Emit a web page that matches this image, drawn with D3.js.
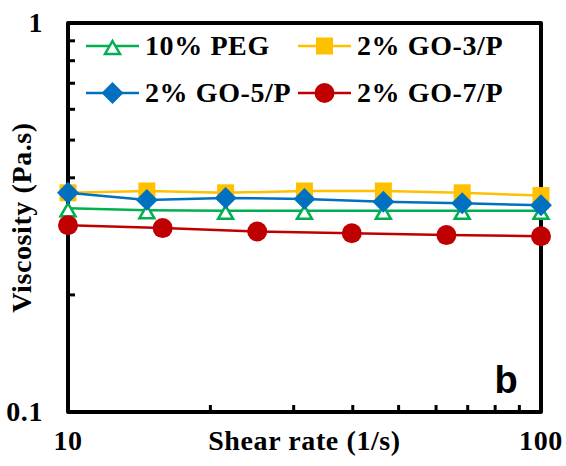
<!DOCTYPE html>
<html>
<head>
<meta charset="utf-8">
<script src="https://cdn.jsdelivr.net/npm/d3@7"></script>
<style>
  body { margin: 0; background: #fff; }
  text { font-family: "Liberation Serif", "Times New Roman", serif; font-weight: bold; letter-spacing: 0.6px; }
</style>
</head>
<body>
<div id="chart"></div>
<script>
// shear rates (1/s)
var shearA = [10, 14.68, 21.54, 31.62, 46.42, 68.13, 100];
var shearB = [10, 15.85, 25.12, 39.81, 63.1, 100];

// viscosity (Pa.s)
var peg10 = [0.334, 0.330, 0.329, 0.329, 0.329, 0.329, 0.329];
var go3 = [0.366, 0.370, 0.366, 0.370, 0.370, 0.366, 0.360];
var go5 = [0.366, 0.351, 0.355, 0.353, 0.347, 0.344, 0.340];
var go7 = [0.302, 0.297, 0.291, 0.288, 0.285, 0.283];

var seriesNames = ["10% PEG", "2% GO-3/P", "2% GO-5/P", "2% GO-7/P"];
var xTickLabels = [10, 100];
var yTickLabels = [0.1, 1];
var xMinor = [20, 30, 40, 50, 60, 70, 80, 90];
var yMinor = [0.2, 0.3, 0.4, 0.5, 0.6, 0.7, 0.8, 0.9];

function chart() {
  var width = 566, height = 466;
  var pLeft = 68, pRight = 541, pTop = 23, pBottom = 412;
  var fs = 28;

  var svg = d3.select("#chart").append("svg")
      .attr("width", width)
      .attr("height", height);

  var x = d3.scaleLog().domain([10, 100]).range([pLeft, pRight]);
  var y = d3.scaleLog().domain([0.1, 1]).range([pBottom, pTop]);

  // triangle marker shape (open)
  function triPath(cx, cy) {
    var p = d3.path();
    p.moveTo(cx, cy - 5);
    p.lineTo(cx + 7.5, cy + 8);
    p.lineTo(cx - 7.5, cy + 8);
    p.closePath();
    return p.toString();
  }

  var series = [
    {name: seriesNames[0], xs: shearA, ys: peg10, color: "#00b050", marker: "triangle"},
    {name: seriesNames[1], xs: shearA, ys: go3, color: "#ffc000", marker: "square"},
    {name: seriesNames[2], xs: shearA, ys: go5, color: "#0070c0", marker: "diamond"},
    {name: seriesNames[3], xs: shearB, ys: go7, color: "#c00000", marker: "circle"}
  ];

  function drawMarker(g, type, cx, cy, color) {
    if (type == "triangle") {
      g.append("path").attr("d", triPath(cx, cy))
        .attr("fill", "#fff").attr("stroke", color).attr("stroke-width", 2.5);
    } else if (type == "square") {
      g.append("rect").attr("x", cx - 8.5).attr("y", cy - 8.5)
        .attr("width", 17).attr("height", 17).attr("fill", color);
    } else if (type == "diamond") {
      g.append("path")
        .attr("d", d3.symbol().type(d3.symbolSquare).size(240)())
        .attr("transform", "translate(" + cx + "," + cy + ") rotate(45)")
        .attr("fill", color);
    } else {
      g.append("circle").attr("cx", cx).attr("cy", cy).attr("r", 10).attr("fill", color);
    }
  }

  // axes frame
  var frame = svg.append("g");
  frame.append("path")
    .attr("d", "M" + pLeft + "," + pTop + "H" + pRight + "V" + pBottom + "H" + pLeft + "Z")
    .attr("fill", "none").attr("stroke", "#000").attr("stroke-width", 4)
    .attr("stroke-linejoin", "round");

  frame.selectAll(".xt").data(xMinor).enter().append("line")
    .attr("x1", function(d) { return x(d); }).attr("x2", function(d) { return x(d); })
    .attr("y1", pBottom).attr("y2", pBottom - 7)
    .attr("stroke", "#000").attr("stroke-width", 3);

  frame.selectAll(".yt").data(yMinor).enter().append("line")
    .attr("y1", function(d) { return y(d); }).attr("y2", function(d) { return y(d); })
    .attr("x1", pLeft).attr("x2", pLeft + 7)
    .attr("stroke", "#000").attr("stroke-width", 3);

  // tick labels
  svg.selectAll(".xl").data(xTickLabels).enter().append("text")
    .attr("x", function(d) { return x(d); }).attr("y", 450)
    .attr("text-anchor", "middle").attr("font-size", fs)
    .text(function(d) { return d; });

  svg.selectAll(".yl").data(yTickLabels).enter().append("text")
    .attr("x", 43).attr("y", function(d) { return y(d) + 9; })
    .attr("text-anchor", "end").attr("font-size", fs)
    .text(function(d) { return d; });

  // axis titles
  svg.append("text").attr("x", (pLeft + pRight) / 2).attr("y", 450)
    .attr("text-anchor", "middle").attr("font-size", fs)
    .text("Shear rate (1/s)");

  svg.append("text")
    .attr("transform", "translate(31," + ((pTop + pBottom) / 2) + ") rotate(-90)")
    .attr("text-anchor", "middle").attr("font-size", fs)
    .text("Viscosity (Pa.s)");

  // lines + markers
  var line = d3.line();
  series.forEach(function(s) {
    var pts = s.xs.map(function(v, i) { return [x(v), y(s.ys[i])]; });
    svg.append("path").attr("d", line(pts))
      .attr("fill", "none").attr("stroke", s.color).attr("stroke-width", 2.5);
  });
  // yellow squares go under blue diamonds
  [1, 0, 2, 3].forEach(function(k) {
    var s = series[k];
    var g = svg.append("g");
    s.xs.forEach(function(v, i) { drawMarker(g, s.marker, x(v), y(s.ys[i]), s.color); });
  });

  // legend
  var legPos = [[86, 46], [298, 46], [86, 93], [298, 93]];
  series.forEach(function(s, i) {
    var lx = legPos[i][0], ly = legPos[i][1];
    var g = svg.append("g");
    g.append("line").attr("x1", lx).attr("x2", lx + 53).attr("y1", ly).attr("y2", ly)
      .attr("stroke", s.color).attr("stroke-width", 2.5);
    drawMarker(g, s.marker, lx + 26.5, ly, s.color);
    g.append("text").attr("x", lx + 59).attr("y", ly + 9)
      .attr("font-size", fs).text(s.name);
  });

  // panel letter
  svg.append("text").attr("x", 506).attr("y", 393)
    .attr("text-anchor", "middle")
    .style("font-family", "'Liberation Sans', Arial, sans-serif")
    .style("letter-spacing", "0px")
    .attr("font-size", 38).text("b");
}

chart();
</script>
</body>
</html>
